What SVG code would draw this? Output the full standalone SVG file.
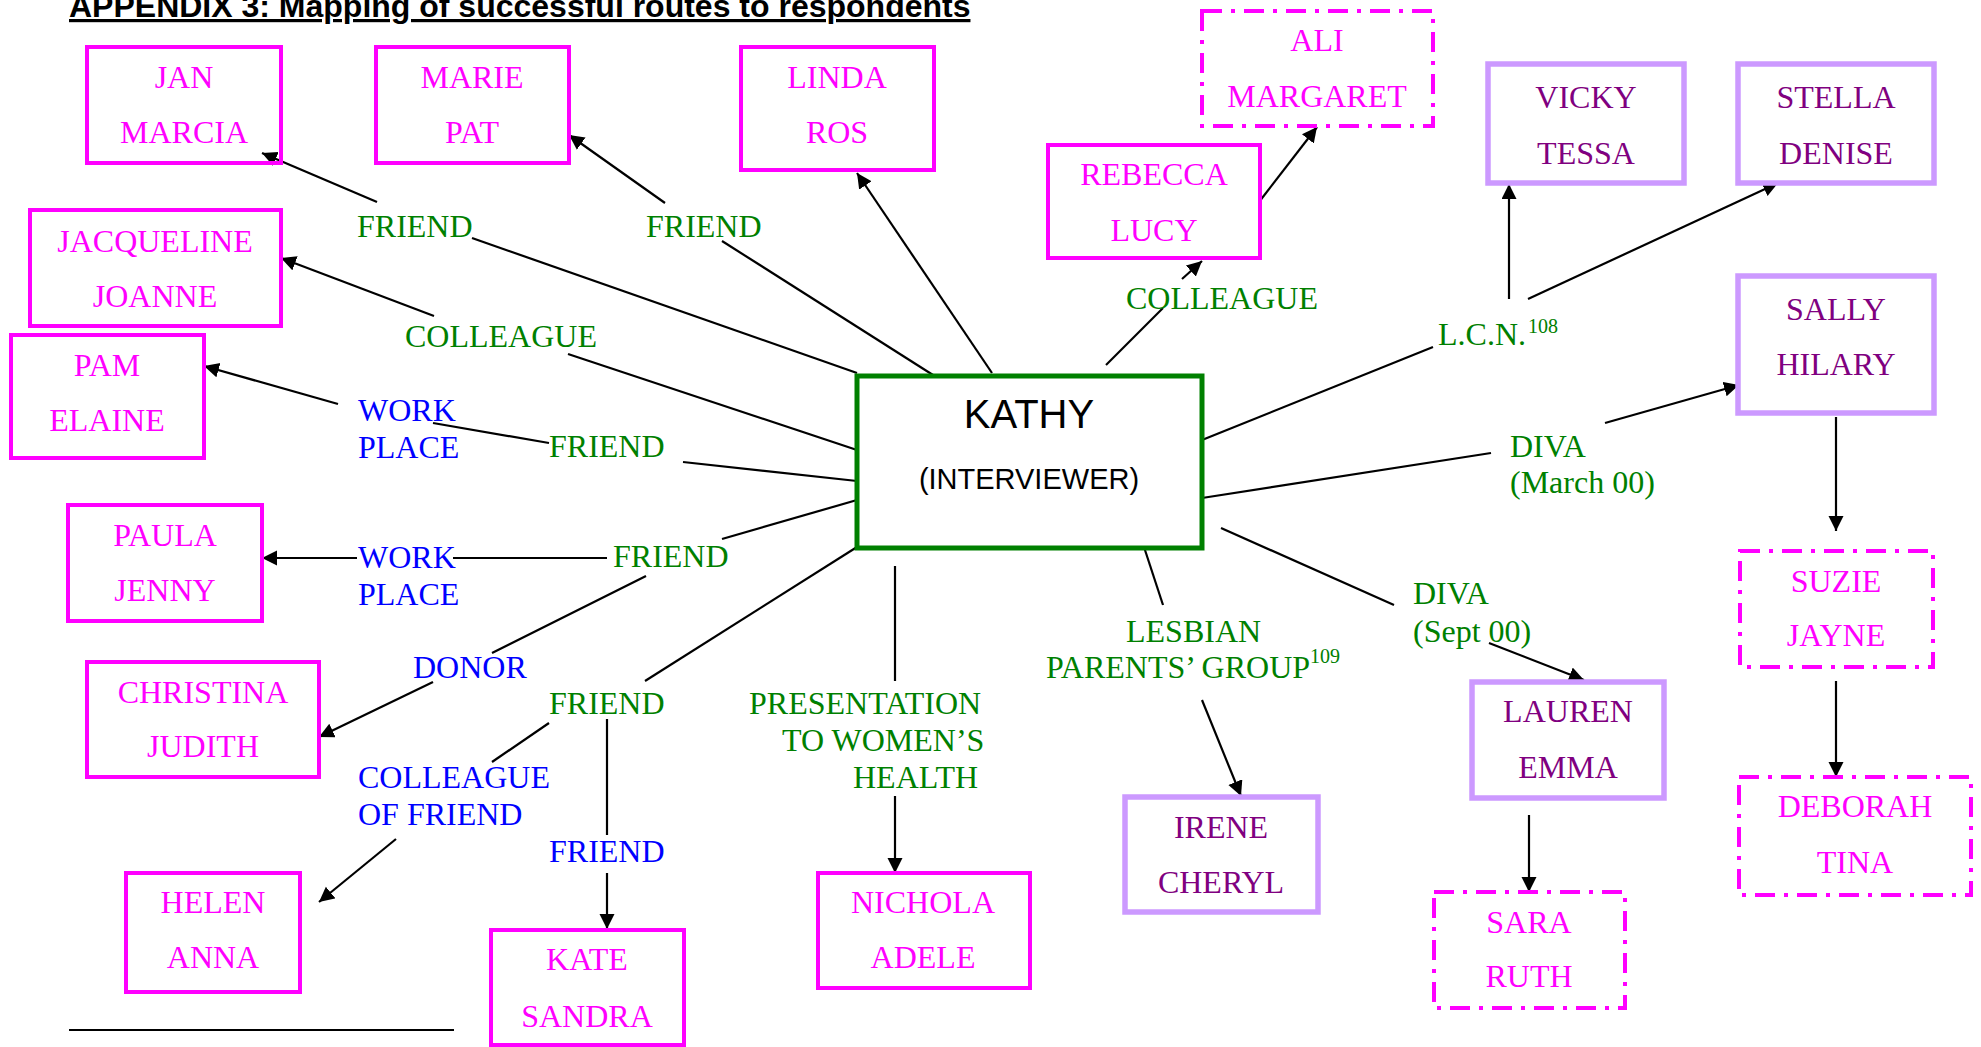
<svg xmlns="http://www.w3.org/2000/svg" width="1981" height="1047" viewBox="0 0 1981 1047">
<style>
.t{font-family:"Liberation Serif","Times New Roman",serif;font-size:32px}
.n{fill:#FF00FF;text-anchor:middle}
.p{fill:#800080;text-anchor:middle}
.g{fill:#008000}
.b{fill:#0000FF}
.sup{font-size:20px}
.bx{fill:none;stroke:#FF00FF;stroke-width:4}
.lv{fill:none;stroke:#CC99FF;stroke-width:5.5}
.dd{fill:none;stroke:#FF00FF;stroke-width:4;stroke-dasharray:20 9 4 9}
.c line{stroke:#000;stroke-width:2.2}
.a{marker-end:url(#ah)}
</style>
<defs>
<marker id="ah" markerUnits="userSpaceOnUse" markerWidth="16" markerHeight="16" refX="15" refY="7.5" orient="auto">
<path d="M0,0 L15,7.5 L0,15 z" fill="#000"/>
</marker>
</defs>
<rect width="1981" height="1047" fill="#fff"/>
<text x="69" y="17" font-family="'Liberation Sans',Arial,sans-serif" font-size="32" font-weight="bold" text-decoration="underline" fill="#000">APPENDIX 3: Mapping of successful routes to respondents</text>
<line x1="69" y1="1030" x2="454" y2="1030" stroke="#000" stroke-width="2"/>

<g id="connectors" class="c">
<line x1="472" y1="238" x2="857" y2="373"/>
<line class="a" x1="377" y1="202" x2="262" y2="153"/>
<line x1="722" y1="241" x2="933" y2="375"/>
<line class="a" x1="665" y1="203" x2="569" y2="135"/>
<line class="a" x1="992" y1="373" x2="857" y2="173"/>
<line x1="568" y1="354" x2="857" y2="450"/>
<line class="a" x1="434" y1="316" x2="281" y2="258"/>
<line x1="683" y1="462" x2="857" y2="481"/>
<line x1="549" y1="443" x2="433" y2="423"/>
<line class="a" x1="338" y1="404" x2="204" y2="366"/>
<line x1="857" y1="500" x2="722" y2="539"/>
<line x1="607" y1="558" x2="453" y2="558"/>
<line class="a" x1="357" y1="558" x2="262" y2="558"/>
<line x1="646" y1="576" x2="492" y2="653"/>
<line class="a" x1="433" y1="682" x2="319" y2="737"/>
<line x1="857" y1="547" x2="645" y2="681"/>
<line x1="549" y1="723" x2="492" y2="762"/>
<line class="a" x1="396" y1="839" x2="319" y2="902"/>
<line x1="607" y1="719" x2="607" y2="835"/>
<line class="a" x1="607" y1="873" x2="607" y2="929"/>
<line x1="895" y1="566" x2="895" y2="681"/>
<line class="a" x1="895" y1="796" x2="895" y2="873"/>
<line x1="1144" y1="547" x2="1163" y2="605"/>
<line class="a" x1="1202" y1="700" x2="1241" y2="796"/>
<line x1="1106" y1="365" x2="1163" y2="308"/>
<line class="a" x1="1182" y1="279" x2="1202" y2="261"/>
<line class="a" x1="1259" y1="202" x2="1317" y2="127"/>
<line x1="1202" y1="440" x2="1433" y2="347"/>
<line class="a" x1="1509" y1="299" x2="1509" y2="184"/>
<line class="a" x1="1528" y1="299" x2="1778" y2="183"/>
<line x1="1202" y1="498" x2="1491" y2="453"/>
<line class="a" x1="1605" y1="423" x2="1739" y2="385"/>
<line class="a" x1="1836" y1="417" x2="1836" y2="531"/>
<line class="a" x1="1836" y1="681" x2="1836" y2="777"/>
<line x1="1221" y1="528" x2="1394" y2="605"/>
<line class="a" x1="1489" y1="643" x2="1584" y2="680"/>
<line class="a" x1="1529" y1="815" x2="1529" y2="892"/>
</g>

<g id="labels" class="t">
<text class="g" x="357" y="237">FRIEND</text>
<text class="g" x="646" y="237">FRIEND</text>
<text class="g" x="405" y="347">COLLEAGUE</text>
<text class="g" x="1126" y="309">COLLEAGUE</text>
<text class="g" x="1438" y="345">L.C.N.<tspan class="sup" dx="2" dy="-12">108</tspan></text>
<text class="b" x="358" y="421">WORK</text>
<text class="b" x="358" y="458">PLACE</text>
<text class="g" x="549" y="457">FRIEND</text>
<text class="g" x="1510" y="457">DIVA</text>
<text class="g" x="1510" y="493">(March 00)</text>
<text class="b" x="358" y="568">WORK</text>
<text class="b" x="358" y="605">PLACE</text>
<text class="g" x="613" y="567">FRIEND</text>
<text class="b" x="413" y="678">DONOR</text>
<text class="g" x="549" y="714">FRIEND</text>
<text class="b" x="358" y="788">COLLEAGUE</text>
<text class="b" x="358" y="825">OF FRIEND</text>
<text class="b" x="549" y="862">FRIEND</text>
<text class="g" x="749" y="714">PRESENTATION</text>
<text class="g" x="782" y="751">TO WOMEN’S</text>
<text class="g" x="853" y="788">HEALTH</text>
<text class="g" x="1126" y="642">LESBIAN</text>
<text class="g" x="1046" y="678">PARENTS’ GROUP<tspan class="sup" dy="-15">109</tspan></text>
<text class="g" x="1413" y="604">DIVA</text>
<text class="g" x="1413" y="642">(Sept 00)</text>
</g>

<g id="kathy">
<rect x="857" y="376" width="345" height="172" fill="none" stroke="#008000" stroke-width="5"/>
<text x="1029" y="428" font-family="'Liberation Sans',Arial,sans-serif" font-size="40" text-anchor="middle" fill="#000">KATHY</text>
<text x="1029" y="489" font-family="'Liberation Sans',Arial,sans-serif" font-size="29" text-anchor="middle" fill="#000">(INTERVIEWER)</text>
</g>

<g id="jan" class="t"><rect class="bx" x="87" y="47" width="194" height="116"/><text class="n" x="184" y="88">JAN</text><text class="n" x="184" y="143">MARCIA</text></g>
<g id="marie" class="t"><rect class="bx" x="376" y="47" width="193" height="116"/><text class="n" x="472" y="88">MARIE</text><text class="n" x="472" y="143">PAT</text></g>
<g id="linda" class="t"><rect class="bx" x="741" y="47" width="193" height="123"/><text class="n" x="837" y="88">LINDA</text><text class="n" x="837" y="143">ROS</text></g>
<g id="ali" class="t"><rect class="dd" x="1202" y="11" width="231" height="115"/><text class="n" x="1317" y="51">ALI</text><text class="n" x="1317" y="107">MARGARET</text></g>
<g id="rebecca" class="t"><rect class="bx" x="1048" y="145" width="212" height="113"/><text class="n" x="1154" y="185">REBECCA</text><text class="n" x="1154" y="241">LUCY</text></g>
<g id="vicky" class="t"><rect class="lv" x="1488" y="64" width="196" height="119"/><text class="p" x="1586" y="108">VICKY</text><text class="p" x="1586" y="164">TESSA</text></g>
<g id="stella" class="t"><rect class="lv" x="1738" y="64" width="196" height="119"/><text class="p" x="1836" y="108">STELLA</text><text class="p" x="1836" y="164">DENISE</text></g>
<g id="sally" class="t"><rect class="lv" x="1738" y="276" width="196" height="137"/><text class="p" x="1836" y="320">SALLY</text><text class="p" x="1836" y="375">HILARY</text></g>
<g id="suzie" class="t"><rect class="dd" x="1740" y="551" width="193" height="116"/><text class="n" x="1836" y="592">SUZIE</text><text class="n" x="1836" y="646">JAYNE</text></g>
<g id="deborah" class="t"><rect class="dd" x="1739" y="777" width="232" height="118"/><text class="n" x="1855" y="817">DEBORAH</text><text class="n" x="1855" y="873">TINA</text></g>
<g id="lauren" class="t"><rect class="lv" x="1472" y="682" width="192" height="116"/><text class="p" x="1568" y="722">LAUREN</text><text class="p" x="1568" y="778">EMMA</text></g>
<g id="sara" class="t"><rect class="dd" x="1434" y="892" width="191" height="116"/><text class="n" x="1529" y="933">SARA</text><text class="n" x="1529" y="987">RUTH</text></g>
<g id="irene" class="t"><rect class="lv" x="1125" y="797" width="193" height="115"/><text class="p" x="1221" y="838">IRENE</text><text class="p" x="1221" y="893">CHERYL</text></g>
<g id="jacqueline" class="t"><rect class="bx" x="30" y="210" width="251" height="116"/><text class="n" x="155" y="252">JACQUELINE</text><text class="n" x="155" y="307">JOANNE</text></g>
<g id="pam" class="t"><rect class="bx" x="11" y="335" width="193" height="123"/><text class="n" x="107" y="376">PAM</text><text class="n" x="107" y="431">ELAINE</text></g>
<g id="paula" class="t"><rect class="bx" x="68" y="505" width="194" height="116"/><text class="n" x="165" y="546">PAULA</text><text class="n" x="165" y="601">JENNY</text></g>
<g id="christina" class="t"><rect class="bx" x="87" y="662" width="232" height="115"/><text class="n" x="203" y="703">CHRISTINA</text><text class="n" x="203" y="757">JUDITH</text></g>
<g id="helen" class="t"><rect class="bx" x="126" y="873" width="174" height="119"/><text class="n" x="213" y="913">HELEN</text><text class="n" x="213" y="968">ANNA</text></g>
<g id="kate" class="t"><rect class="bx" x="491" y="930" width="193" height="115"/><text class="n" x="587" y="970">KATE</text><text class="n" x="587" y="1027">SANDRA</text></g>
<g id="nichola" class="t"><rect class="bx" x="818" y="873" width="212" height="115"/><text class="n" x="923" y="913">NICHOLA</text><text class="n" x="923" y="968">ADELE</text></g>
</svg>
